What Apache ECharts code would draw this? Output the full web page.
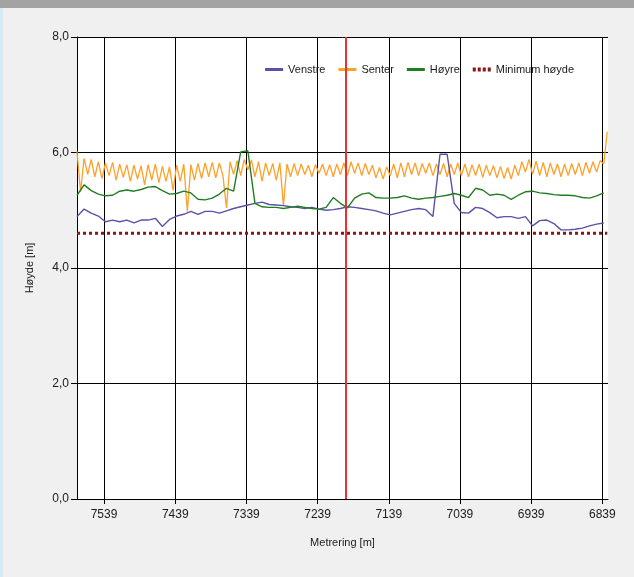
<!DOCTYPE html>
<html>
<head>
<meta charset="utf-8">
<script src="https://cdn.jsdelivr.net/npm/echarts@6/dist/echarts.min.js"></script>
<style>
  html, body { margin: 0; padding: 0; background: #f0f0f0; }
  #chart { width: 634px; height: 577px; }
</style>
</head>
<body>
<div id="chart"></div>
<script>
// Metrering [m] on x (axis runs from high to low), Høyde [m] on y
const xMin = 6831
const xMax = 7577
const xTicks = [7539, 7439, 7339, 7239, 7139, 7039, 6939, 6839]
const yTicks = [0, 2, 4, 6, 8]
const cursorM = 7199

// Venstre and Høyre, every 10 m from 7577
const sideStart = 7577
const sideStep = 10
const venstre = [
    4.89, 5.02, 4.95, 4.90, 4.80, 4.83, 4.80, 4.83, 4.78, 4.83,
    4.83, 4.86, 4.72, 4.84, 4.90, 4.93, 4.98, 4.93, 4.98, 4.98,
    4.95, 4.99, 5.03, 5.06, 5.09, 5.12, 5.14, 5.10, 5.09, 5.08,
    5.06, 5.05, 5.03, 5.05, 5.02, 5.00, 5.01, 5.03, 5.06, 5.05,
    5.03, 5.01, 4.99, 4.95, 4.92, 4.95, 4.98, 5.01, 5.03, 5.01,
    4.89, 5.97, 5.97, 5.12, 4.96, 4.95, 5.05, 5.03, 4.96, 4.87,
    4.89, 4.89, 4.86, 4.89, 4.73, 4.82, 4.83, 4.77, 4.66, 4.66,
    4.67, 4.69, 4.73, 4.76, 4.78
]
const hoyre = [
    5.26, 5.44, 5.34, 5.28, 5.25, 5.26, 5.33, 5.35, 5.33, 5.36,
    5.40, 5.41, 5.34, 5.28, 5.29, 5.33, 5.30, 5.19, 5.18, 5.21,
    5.28, 5.38, 5.33, 6.01, 6.03, 5.12, 5.06, 5.05, 5.05, 5.03,
    5.05, 5.07, 5.05, 5.03, 5.02, 5.05, 5.22, 5.12, 5.04, 5.21,
    5.28, 5.30, 5.22, 5.21, 5.21, 5.22, 5.25, 5.21, 5.19, 5.21,
    5.22, 5.24, 5.26, 5.29, 5.26, 5.22, 5.38, 5.35, 5.26, 5.28,
    5.26, 5.19, 5.26, 5.32, 5.33, 5.30, 5.29, 5.27, 5.26, 5.26,
    5.25, 5.22, 5.21, 5.25, 5.30
]

// Senter, every 5 m from 7577
const senterStart = 7577
const senterStep = 5
const senter = [
    6.02, 5.32, 5.90, 5.62, 5.88, 5.58, 5.84, 5.55, 5.82, 5.60,
    5.83, 5.52, 5.80, 5.57, 5.79, 5.50, 5.78, 5.54, 5.77, 5.44,
    5.79, 5.52, 5.80, 5.48, 5.76, 5.50, 5.75, 5.35, 5.78, 5.50,
    5.80, 4.98, 5.79, 5.52, 5.81, 5.55, 5.82, 5.58, 5.83, 5.56,
    5.82, 5.60, 5.04, 5.84, 5.62, 5.86, 5.60, 5.88, 5.70, 5.87,
    5.58, 5.84, 5.50, 5.82, 5.60, 5.81, 5.52, 5.82, 5.08, 5.80,
    5.58, 5.81, 5.60, 5.80, 5.62, 5.78, 5.58, 5.79, 5.64, 5.80,
    5.60, 5.79, 5.58, 5.80, 5.62, 5.82, 5.60, 5.84, 5.64, 5.82,
    5.60, 5.81, 5.62, 5.78, 5.56, 5.74, 5.54, 5.75, 5.60, 5.80,
    5.56, 5.82, 5.58, 5.83, 5.62, 5.82, 5.60, 5.81, 5.64, 5.82,
    5.60, 5.80, 5.62, 5.81, 5.58, 5.80, 5.62, 5.82, 5.60, 5.80,
    5.58, 5.79, 5.60, 5.80, 5.57, 5.78, 5.60, 5.77, 5.56, 5.76,
    5.55, 5.74, 5.54, 5.78, 5.60, 5.84, 5.66, 5.88, 5.62, 5.85,
    5.60, 5.83, 5.58, 5.82, 5.62, 5.80, 5.58, 5.80, 5.60, 5.81,
    5.62, 5.82, 5.60, 5.83, 5.64, 5.84, 5.66, 5.86, 5.80, 6.36
]

// Minimum høyde
const minHoydeM = [7577, 6832]
const minHoyde = [4.6, 4.6]

const toPairs = (start, step, values) => values.map((v, i) => [start - i * step, v])

const chart = echarts.init(document.getElementById('chart'))

const font = 'Liberation Sans, Arial, sans-serif'
const textColor = '#1a1a1a'

chart.setOption({
    animation: false,
    backgroundColor: '#f0f0f0',
    textStyle: { fontFamily: font },
    graphic: [
        { type: 'rect', left: 0, top: 0, shape: { width: 634, height: 8 }, style: { fill: '#a3a3a3' }, z: 10 },
        { type: 'rect', left: 0, top: 8, shape: { width: 3, height: 569 }, style: { fill: '#d4eaf7' }, z: 10 }
    ],
    legend: {
        top: 59,
        right: 55,
        itemWidth: 18,
        itemHeight: 10,
        itemGap: 13,
        icon: 'path://M0,3.5 L18,3.5 L18,6.5 L0,6.5 Z',
        textStyle: { fontSize: 11, color: textColor, fontFamily: font },
        data: ['Venstre', 'Senter', 'Høyre', {
            name: 'Minimum høyde',
            icon: 'path://M0,3 L3,3 L3,7 L0,7 Z M5,3 L8,3 L8,7 L5,7 Z M10,3 L13,3 L13,7 L10,7 Z M15,3 L18,3 L18,7 L15,7 Z'
        }]
    },
    grid: { left: 77, right: 26, top: 37, bottom: 78, backgroundColor: '#fff', show: true, borderWidth: 0 },
    xAxis: {
        type: 'value',
        inverse: true,
        min: xMin,
        max: xMax,
        name: 'Metrering [m]',
        nameLocation: 'middle',
        nameGap: 38,
        nameTextStyle: { fontSize: 11, color: textColor, fontFamily: font },
        axisLine: { lineStyle: { color: '#000', width: 1 } },
        axisTick: { show: true, length: 5, customValues: xTicks, lineStyle: { color: '#000' } },
        axisLabel: {
            customValues: xTicks,
            fontSize: 12,
            color: textColor,
            margin: 10,
            fontFamily: font,
            formatter: v => String(v)
        },
        splitLine: { show: true, lineStyle: { color: '#000', width: 1 } }
    },
    yAxis: {
        type: 'value',
        min: 0,
        max: 8,
        interval: 2,
        name: 'Høyde [m]',
        nameLocation: 'middle',
        nameGap: 42,
        nameTextStyle: { fontSize: 11, color: textColor, fontFamily: font },
        axisLine: { show: true, lineStyle: { color: '#000', width: 1 } },
        axisTick: { show: true, length: 6, lineStyle: { color: '#000' } },
        axisLabel: {
            fontSize: 12,
            color: textColor,
            margin: 8,
            fontFamily: font,
            formatter: v => yTicks.includes(v) ? v.toFixed(1).replace('.', ',') : ''
        },
        splitLine: { show: true, lineStyle: { color: '#000', width: 1 } }
    },
    series: [
        {
            name: 'Venstre',
            type: 'line',
            showSymbol: false,
            color: '#5b51a6',
            lineStyle: { width: 1.4 },
            data: toPairs(sideStart, sideStep, venstre),
            z: 3
        },
        {
            name: 'Senter',
            type: 'line',
            showSymbol: false,
            color: '#ffa02a',
            lineStyle: { width: 1.3 },
            data: toPairs(senterStart, senterStep, senter),
            z: 2,
            markLine: {
                silent: true,
                symbol: ['none', 'none'],
                label: { show: false },
                lineStyle: { color: '#ee3030', width: 2, type: 'solid' },
                data: [{ xAxis: cursorM }],
                z: 5
            }
        },
        {
            name: 'Høyre',
            type: 'line',
            showSymbol: false,
            color: '#207d20',
            lineStyle: { width: 1.4 },
            data: toPairs(sideStart, sideStep, hoyre),
            z: 3
        },
        {
            name: 'Minimum høyde',
            type: 'line',
            showSymbol: false,
            color: '#8f1414',
            lineStyle: { width: 3, type: [3, 3] },
            data: minHoydeM.map((m, i) => [m, minHoyde[i]]),
            z: 4
        }
    ]
})

window.addEventListener('resize', () => chart.resize())
</script>
</body>
</html>
